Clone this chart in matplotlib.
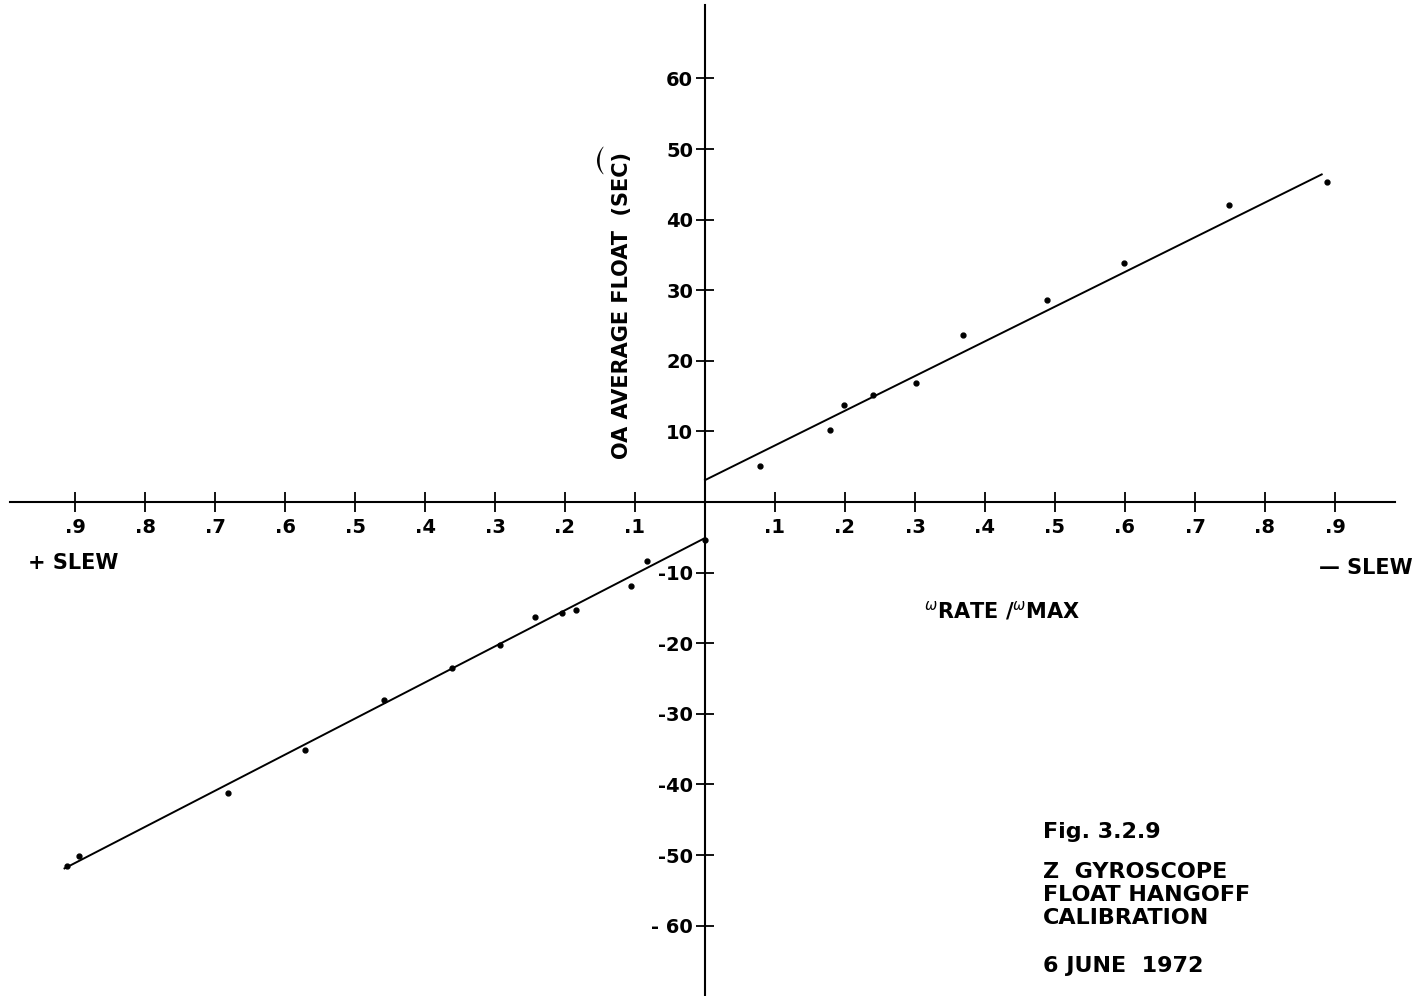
import matplotlib.pyplot as plt

# tick values (signed: left of origin is + slew, right is - slew)
x_ticks = [-0.9, -0.8, -0.7, -0.6, -0.5, -0.4, -0.3, -0.2, -0.1,
           0.1, 0.2, 0.3, 0.4, 0.5, 0.6, 0.7, 0.8, 0.9]
x_tick_labels = ['.9', '.8', '.7', '.6', '.5', '.4', '.3', '.2', '.1',
                 '.1', '.2', '.3', '.4', '.5', '.6', '.7', '.8', '.9']
y_ticks = [-60, -50, -40, -30, -20, -10, 10, 20, 30, 40, 50, 60]
y_tick_labels = ['- 60', '-50', '-40', '-30', '-20', '-10',
                 '10', '20', '30', '40', '50', '60']

# measured points, - slew side
neg_slew_x = [0.078, 0.179, 0.199, 0.240, 0.301, 0.369, 0.488, 0.599, 0.749, 0.889]
neg_slew_y = [5.1, 10.2, 13.7, 15.1, 16.8, 23.6, 28.6, 33.8, 42.0, 45.3]

# measured points, + slew side
pos_slew_x = [0.0, -0.083, -0.106, -0.184, -0.205, -0.243, -0.293, -0.361,
              -0.458, -0.572, -0.681, -0.895, -0.911]
pos_slew_y = [-5.4, -8.3, -11.9, -15.3, -15.7, -16.3, -20.2, -23.5,
              -28.1, -35.1, -41.2, -50.1, -51.5]

# fitted lines
fit_neg_x = [0.0, 0.881]
fit_neg_y = [3.1, 46.4]
fit_pos_x = [0.0, -0.915]
fit_pos_y = [-5.1, -51.9]

FONT = 'DejaVu Sans'
W, H = 1421, 996

fig = plt.figure(figsize=(W / 100, H / 100), dpi=100)
ax = fig.add_axes([0, 0, 1, 1])
ax.set_xlim(-705 / 700, (W - 705) / 700)
ax.set_ylim(-(H - 502) / 7.06, 502 / 7.06)

for s in ['top', 'right']:
    ax.spines[s].set_visible(False)
ax.spines['left'].set_position('zero')
ax.spines['bottom'].set_position('zero')
ax.spines['left'].set_bounds(-70, 70.4)
ax.spines['bottom'].set_bounds(-0.993, 0.986)
for s in ['left', 'bottom']:
    ax.spines[s].set_linewidth(1.5)
    ax.spines[s].set_color('black')

ax.set_xticks(x_ticks)
ax.set_xticklabels(x_tick_labels, fontfamily=FONT, fontweight='bold', fontsize=14)
ax.set_yticks(y_ticks)
ax.set_yticklabels(y_tick_labels, fontfamily=FONT, fontweight='bold', fontsize=14)
ax.tick_params(axis='x', direction='inout', length=15, width=1.3, pad=4)
ax.tick_params(axis='y', direction='inout', length=13, width=1.3, pad=2)

ax.plot(fit_neg_x, fit_neg_y, color='black', lw=1.4)
ax.plot(fit_pos_x, fit_pos_y, color='black', lw=1.4)
ax.plot(neg_slew_x, neg_slew_y, 'o', color='black', ms=3.5)
ax.plot(pos_slew_x, pos_slew_y, 'o', color='black', ms=3.5)


def ftext(px, py, s, **kw):
    kw.setdefault('fontfamily', FONT)
    kw.setdefault('fontweight', 'bold')
    fig.text(px / W, 1 - py / H, s, **kw)


ftext(622, 305, 'OA AVERAGE FLOAT  (SEC)', rotation=90, fontsize=15,
      ha='center', va='center')
# arc-second mark over "SEC"
ftext(599, 162, r'$\frown$', rotation=90, fontsize=22, fontweight='normal',
      ha='center', va='center')
ftext(1002, 610, r'$^{\omega}$RATE /$^{\omega}$MAX', fontsize=15,
      ha='center', va='center')
ftext(28, 563, '+ SLEW', fontsize=15, ha='left', va='center')
ftext(1413, 568, '\u2014 SLEW', fontsize=15, ha='right', va='center')

ftext(1043, 832, 'Fig. 3.2.9', fontsize=16, ha='left', va='center')
ftext(1043, 872, 'Z  GYROSCOPE', fontsize=16, ha='left', va='center')
ftext(1043, 895, 'FLOAT HANGOFF', fontsize=16, ha='left', va='center')
ftext(1043, 918, 'CALIBRATION', fontsize=16, ha='left', va='center')
ftext(1043, 966, '6 JUNE  1972', fontsize=16, ha='left', va='center')

fig.savefig('out.png', dpi=100)
